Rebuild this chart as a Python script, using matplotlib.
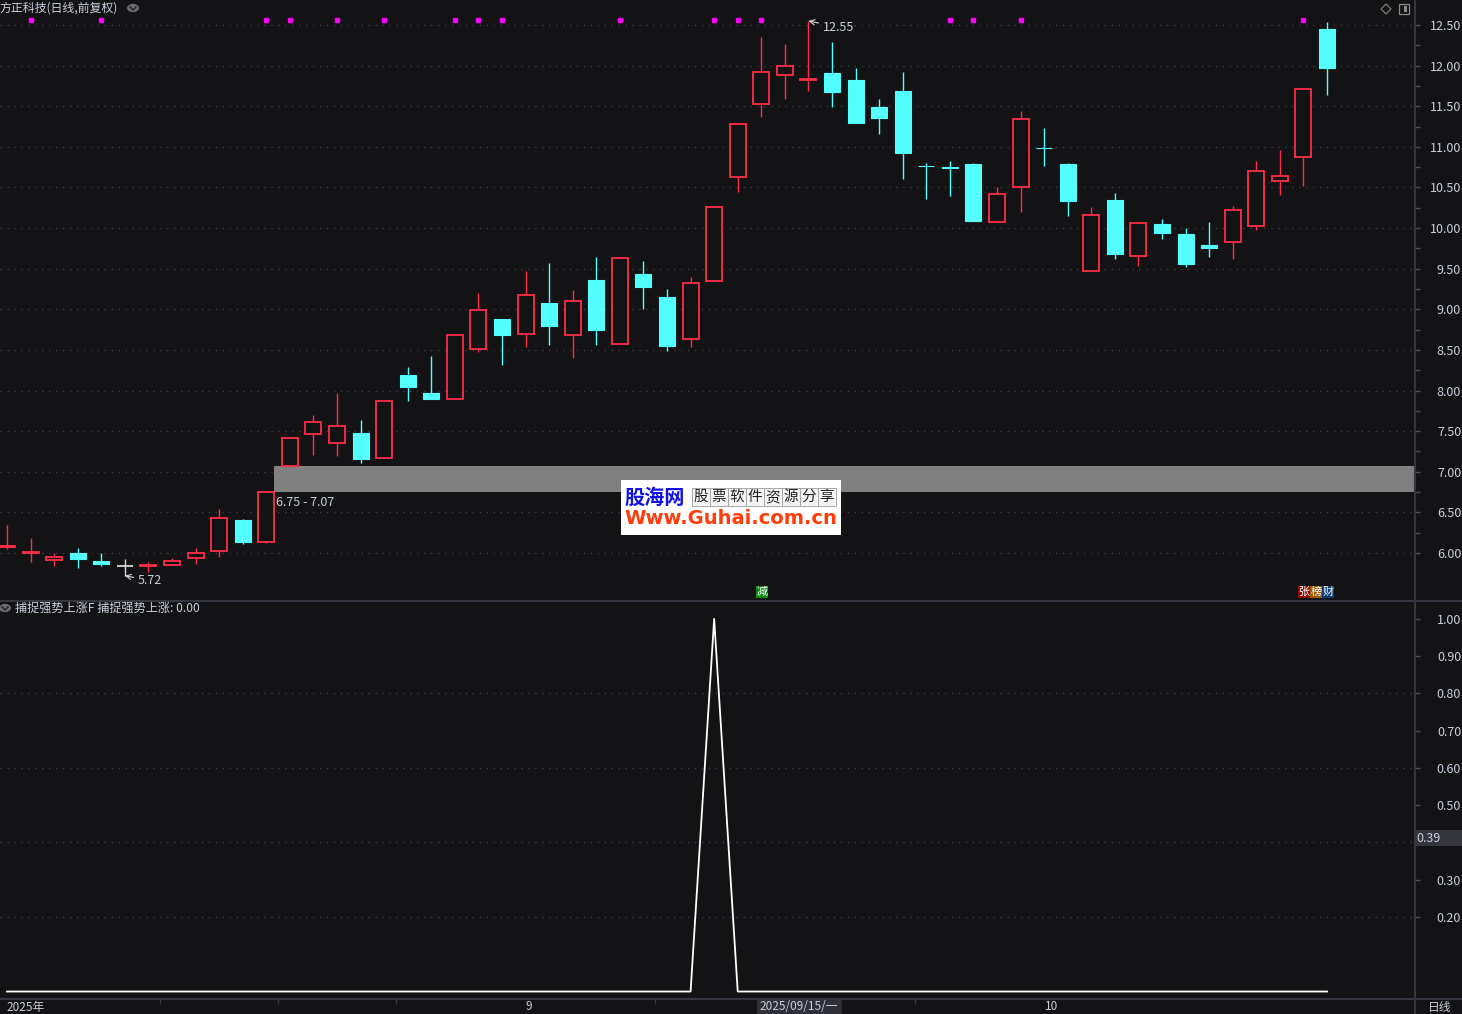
import matplotlib
matplotlib.use('Agg')
import matplotlib.pyplot as plt
from matplotlib.patches import Rectangle, Circle, Polygon
from matplotlib.lines import Line2D
import numpy as np

plt.rcParams['font.family'] = ['Noto Sans CJK SC', 'DejaVu Sans']

# daily bars, oldest first
opens = [6.07, 6.00, 5.91, 6.00, 5.90, 5.84, 5.84, 5.85, 5.94, 6.02,
         6.41, 6.13, 7.07, 7.47, 7.35, 7.48, 7.17, 8.19, 7.97, 7.90,
         8.51, 8.88, 8.69, 9.08, 8.68, 9.36, 8.57, 9.43, 9.15, 8.63,
         9.35, 10.63, 11.53, 11.89, 11.82, 11.91, 11.82, 11.49, 11.69, 10.77,
         10.75, 10.79, 10.07, 10.51, 10.99, 10.79, 9.47, 10.35, 9.66, 10.05,
         9.93, 9.79, 9.83, 10.03, 10.58, 10.88, 12.45]
highs = [6.34, 6.18, 6.00, 6.06, 6.00, 5.93, 5.89, 5.94, 6.06, 6.54,
         6.42, 6.75, 7.42, 7.70, 7.97, 7.64, 7.87, 8.29, 8.43, 8.68,
         9.20, 8.88, 9.47, 9.57, 9.24, 9.64, 9.63, 9.60, 9.25, 9.40,
         10.26, 11.28, 12.35, 12.27, 12.55, 12.29, 11.97, 11.59, 11.92, 10.80,
         10.83, 10.80, 10.51, 11.44, 11.23, 10.80, 10.26, 10.43, 10.07, 10.11,
         10.00, 10.08, 10.27, 10.83, 10.96, 11.71, 12.54]
lows = [6.05, 5.89, 5.84, 5.82, 5.84, 5.72, 5.76, 5.85, 5.86, 5.95,
        6.11, 6.12, 7.07, 7.21, 7.19, 7.11, 7.17, 7.87, 7.90, 7.90,
        8.47, 8.31, 8.54, 8.56, 8.40, 8.56, 8.57, 9.00, 8.49, 8.54,
        9.35, 10.44, 11.37, 11.59, 11.69, 11.49, 11.29, 11.16, 10.61, 10.36,
        10.40, 10.09, 10.07, 10.20, 10.77, 10.15, 9.47, 9.62, 9.53, 9.87,
        9.52, 9.64, 9.62, 9.98, 10.41, 10.52, 11.64]
closes = [6.08, 6.01, 5.95, 5.92, 5.86, 5.84, 5.85, 5.90, 6.00, 6.43,
          6.13, 6.75, 7.41, 7.61, 7.56, 7.16, 7.87, 8.04, 7.90, 8.68,
          8.99, 8.68, 9.17, 8.80, 9.10, 8.75, 9.63, 9.27, 8.55, 9.32,
          10.26, 11.28, 11.92, 11.99, 11.83, 11.67, 11.29, 11.36, 10.92, 10.76,
          10.74, 10.09, 10.42, 11.34, 10.98, 10.33, 10.16, 9.68, 10.06, 9.94,
          9.56, 9.75, 10.22, 10.70, 10.64, 11.71, 11.97]

# indicator panel (捕捉强势上涨)
signal = [0] * 57
signal[30] = 1

# bars with a magenta marker above them
mark_idx = [1, 4, 11, 12, 14, 16, 19, 20, 21, 26, 30, 31, 32, 40, 41, 43, 55]

gap_low, gap_high = 6.75, 7.07
price_ticks = np.arange(6.0, 12.51, 0.5)
sig_ticks = [0.2, 0.3, 0.5, 0.6, 0.7, 0.8, 0.9, 1.0]

BG = '#131214'
RED = '#ff2e48'
CYAN = '#54ffff'
GRID = '#3c3d46'
AXIS = '#34373f'
TXT = '#c9d1de'

W, H = 1462, 1014


def fx(x):
    return x / W


def fy(y):
    return 1 - y / H


fig = plt.figure(figsize=(W / 100, H / 100), dpi=100, facecolor=BG)
ax1 = fig.add_axes([0, fy(600), fx(1414), 600 / H])
ax2 = fig.add_axes([0, fy(998), fx(1414), (998 - 601) / H])
for ax in (ax1, ax2):
    ax.set_facecolor(BG)
    for s in ax.spines.values():
        s.set_visible(False)
    ax.set_xlim(-0.297, 59.69)

ax1.set_ylim(5.421, 12.808)
ax2.set_ylim(-0.0174, 1.048)

# grid
for v in price_ticks:
    ax1.axhline(v, color=GRID, lw=1, linestyle=(0, (1, 4)), zorder=0)
for v in [0.2, 0.4, 0.6, 0.8]:
    ax2.axhline(v, color=GRID, lw=1, linestyle=(0, (1, 4)), zorder=0)

# gap band
ax1.add_patch(Rectangle((11.33, gap_low), 60, gap_high - gap_low,
                        facecolor='#808080', edgecolor='none', zorder=1))
ax1.text(11.4, gap_low - 0.05, f'{gap_low:.2f} - {gap_high:.2f}', color=TXT,
         fontsize=9, va='top', ha='left', zorder=5)

# candles
bw = 0.68
for i, (o, h, l, c) in enumerate(zip(opens, highs, lows, closes)):
    top, bot = max(o, c), min(o, c)
    if c > o:
        ax1.vlines(i, top, h, color=RED, lw=1, zorder=3)
        ax1.vlines(i, l, bot, color=RED, lw=1, zorder=3)
        ax1.add_patch(Rectangle((i - bw / 2, bot), bw, top - bot, facecolor=BG,
                                edgecolor=RED, lw=1.3, zorder=4))
    elif c < o:
        ax1.vlines(i, l, h, color=CYAN, lw=1, zorder=3)
        ax1.add_patch(Rectangle((i - bw / 2, bot), bw, top - bot, facecolor=CYAN,
                                edgecolor=CYAN, lw=0.8, zorder=4))
    else:
        ax1.vlines(i, l, h, color='#d8d8d8', lw=1, zorder=3)
        ax1.hlines(o, i - bw / 2, i + bw / 2, color='#d8d8d8', lw=1.3, zorder=4)

ax1.plot(mark_idx, [0.9667] * len(mark_idx), 's', color='#ff00ff', ms=2.6,
         transform=ax1.get_xaxis_transform(), zorder=5)

# high / low labels
hi = int(np.argmax(highs))
lo = int(np.argmin(lows))
ax1.annotate(f'{highs[hi]:.2f}', xy=(hi, highs[hi]), xytext=(hi + 0.6, highs[hi] - 0.075),
             color=TXT, fontsize=9, va='center', ha='left',
             arrowprops=dict(arrowstyle='->', color='#d8d8d8', lw=0.8, shrinkA=1, shrinkB=0))
ax1.annotate(f'{lows[lo]:.2f}', xy=(lo, lows[lo]), xytext=(lo + 0.55, lows[lo] - 0.06),
             color=TXT, fontsize=9, va='center', ha='left',
             arrowprops=dict(arrowstyle='->', color='#d8d8d8', lw=0.8, shrinkA=1, shrinkB=0))

# indicator line
ax2.plot(range(len(signal)), signal, color='white', lw=1.3, zorder=3)

# axes ticks
ax1.yaxis.tick_right()
ax1.set_yticks(price_ticks)
ax1.set_yticklabels([f'{v:.2f}' for v in price_ticks])
ax1.set_yticks(price_ticks[:-1] + 0.25, minor=True)
ax1.set_xticks([])
ax2.yaxis.tick_right()
ax2.set_yticks(sig_ticks)
ax2.set_yticklabels([f'{v:.2f}' for v in sig_ticks])
ax2.set_xticks([])
ax2.set_xticks([6.5, 11.5, 16.5, 27.5, 38.5], minor=True)
ax2.tick_params(axis='x', which='minor', direction='out', length=4, width=1, color=AXIS)
for ax in (ax1, ax2):
    ax.tick_params(axis='y', which='both', direction='out', length=4, width=1,
                   color='#4a4d56', labelcolor=TXT, labelsize=9, pad=30)
    for lb in ax.get_yticklabels():
        lb.set_horizontalalignment('right')

# separators
fig.add_artist(Line2D([fx(1414.5)] * 2, [0, 1], color=AXIS, lw=1.5))
fig.add_artist(Line2D([0, 1], [fy(600.5)] * 2, color=AXIS, lw=1.5))
fig.add_artist(Line2D([0, 1], [fy(998.5)] * 2, color=AXIS, lw=1.5))

# current value box on indicator scale
fig.add_artist(Rectangle((fx(1415), fy(846)), fx(47), 16 / H, facecolor='#34353d',
                         edgecolor='none'))
fig.text(fx(1416), fy(838), '0.39', color=TXT, fontsize=9, va='center', ha='left')

# titles
fig.text(fx(0), fy(8), '方正科技(日线,前复权)', color=TXT, fontsize=8.6, va='center', ha='left')
fig.add_artist(Circle((fx(133), fy(8)), 6 / W, facecolor='#6c6c72', edgecolor='none',
                      transform=fig.transFigure))
fig.add_artist(Line2D([fx(130), fx(133), fx(136)], [fy(7), fy(10), fy(7)], color='#202020', lw=1))
fig.add_artist(Circle((fx(5), fy(608)), 6 / W, facecolor='#6c6c72', edgecolor='none',
                      transform=fig.transFigure))
fig.add_artist(Line2D([fx(2), fx(5), fx(8)], [fy(607), fy(610), fy(607)], color='#202020', lw=1))
fig.text(fx(15), fy(608), '捕捉强势上涨F 捕捉强势上涨: 0.00', color=TXT, fontsize=8.7,
         va='center', ha='left')

# top-right icons
fig.add_artist(Polygon([(fx(1386), fy(4)), (fx(1391), fy(9)), (fx(1386), fy(14)), (fx(1381), fy(9))],
                       closed=True, facecolor='none', edgecolor='#8a8a8a', lw=0.8,
                       transform=fig.transFigure))
fig.add_artist(Rectangle((fx(1399), fy(14)), 10 / W, 10 / H, facecolor='none',
                         edgecolor='#8a8a8a', lw=0.9))
fig.add_artist(Rectangle((fx(1404), fy(12)), 3 / W, 6 / H, facecolor='#8a8a8a',
                         edgecolor='none'))

# badges
fig.text(fx(762), fy(592), '减', color='white', fontsize=8, va='center', ha='center',
         bbox=dict(boxstyle='square,pad=0.08', facecolor='#0a8a12', edgecolor='none'))
for k, (ch, col) in enumerate(zip('张榜财', ['#8c0a0a', '#a05800', '#0b3c78'])):
    fig.text(fx(1304 + 12 * k), fy(592), ch, color='white', fontsize=8, va='center',
             ha='center', bbox=dict(boxstyle='square,pad=0.08', facecolor=col, edgecolor='none'))

# watermark
fig.add_artist(Rectangle((fx(621), fy(535)), 220 / W, 55 / H, facecolor='white',
                         edgecolor='none', zorder=10))
fig.text(fx(624), fy(497), '股海网', color='#1010e8', fontsize=14.5, fontweight='bold',
         va='center', ha='left', zorder=11)
for k, ch in enumerate('股票软件资源分享'):
    x0 = 692 + 18 * k
    fig.add_artist(Rectangle((fx(x0), fy(506)), 18 / W, 18 / H, facecolor='#f4f4f4',
                             edgecolor='#a8a8a8', lw=0.7, zorder=11))
    fig.text(fx(x0 + 9), fy(497), ch, color='#202020', fontsize=10.5, va='center',
             ha='center', zorder=12)
fig.text(fx(731), fy(519), 'Www.Guhai.com.cn', color='#ff3c0a', fontsize=14,
         fontweight='bold', family='DejaVu Sans', va='center', ha='center', zorder=11)

# date row
fig.text(fx(6), fy(1007), '2025年', color=TXT, fontsize=8.5, va='center', ha='left')
fig.text(fx(529), fy(1007), '9', color=TXT, fontsize=8.5, va='center', ha='center')
fig.add_artist(Rectangle((fx(757), fy(1014)), 85 / W, 15 / H, facecolor='#2e2f38',
                         edgecolor='none'))
fig.text(fx(799), fy(1007), '2025/09/15/一', color=TXT, fontsize=8.5, va='center', ha='center')
fig.text(fx(1052), fy(1007), '10', color=TXT, fontsize=8.5, va='center', ha='center')
fig.text(fx(1428), fy(1007), '日线', color=TXT, fontsize=8.5, va='center', ha='left')

fig.savefig('out.png', dpi=100, facecolor=BG)
plt.close(fig)
